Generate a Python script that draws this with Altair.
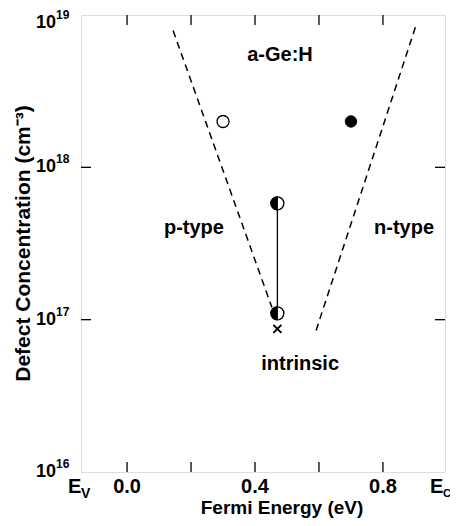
import altair as alt
import pandas as pd

# ---------------- data ----------------
dash_group = ["p", "p", "n", "n"]
dash_x = [0.144, 0.453, 0.591, 0.906]
dash_y = [7.9e18, 1.2e17, 8.5e16, 8.9e18]

range_x = [0.47, 0.47]
range_y = [1.1e17, 5.8e17]

open_x = [0.30]
open_y = [2.0e18]
filled_x = [0.70]
filled_y = [2.0e18]
half_x = [0.47, 0.47]
half_y = [5.8e17, 1.1e17]
cross_x = [0.47]
cross_y = [8.7e16]

label_text = ["a-Ge:H", "p-type", "n-type", "intrinsic"]
label_x = [0.478, 0.209, 0.866, 0.541]
label_y = [5.46e18, 4.0e17, 4.0e17, 5.1e16]

xtick_values = [0.0, 0.2, 0.4, 0.6, 0.8]
xlabel_values = [0.0, 0.4, 0.8]
xlabel_text = ["0.0", "0.4", "0.8"]
ytick_values = [1e16, 1e17, 1e18]
ytick_exp = ["16", "17", "18"]
ytop_value = [1e19]
ytop_exp = ["19"]
ytick_inner = [1e17, 1e18]

x_title = "Fermi Energy (eV)"
y_title = "Defect Concentration (cm⁻³)"

x_domain = [-0.144, 0.994]
y_domain = [1e16, 1e19]

FONT = "Liberation Sans"
W, H = 364, 457

xs = alt.Scale(domain=x_domain, nice=False, zero=False)
ys = alt.Scale(type="log", domain=y_domain, nice=False)

CIRCLE = "M -1 0 A 1 1 0 1 0 1 0 A 1 1 0 1 0 -1 0 Z"
LEFT_HALF = "M 0 -1 A 1 1 0 0 0 0 1 Z"
XMARK = "M -1 -1 L 1 1 M -1 1 L 1 -1"

df_dash = pd.DataFrame({"x": dash_x, "y": dash_y, "g": dash_group})
df_range = pd.DataFrame({"x": range_x, "y": range_y})
df_open = pd.DataFrame({"x": open_x, "y": open_y})
df_filled = pd.DataFrame({"x": filled_x, "y": filled_y})
df_half = pd.DataFrame({"x": half_x, "y": half_y})
df_cross = pd.DataFrame({"x": cross_x, "y": cross_y})
df_lab = pd.DataFrame({"x": label_x, "y": label_y, "t": label_text})
df_xt = pd.DataFrame({"x": xtick_values})
df_xl = pd.DataFrame({"x": xlabel_values, "t": xlabel_text})
df_yt = pd.DataFrame({"y": ytick_values, "e": ytick_exp})
df_ytop = pd.DataFrame({"y": ytop_value, "e": ytop_exp})
df_yi = pd.DataFrame({"y": ytick_inner})
df_one = pd.DataFrame({"k": [0]})


def X():
    return alt.X("x:Q", scale=xs, axis=None)


def Y():
    return alt.Y("y:Q", scale=ys, axis=None)


def txt(data, size, **kw):
    return alt.Chart(data).mark_text(font=FONT, fontSize=size, fontWeight="bold",
                                     color="black", **kw)


dashed = alt.Chart(df_dash).mark_line(color="black", strokeWidth=1.5, strokeDash=[7, 5]).encode(
    x=X(), y=Y(), detail="g:N")

vline = alt.Chart(df_range).mark_line(color="black", strokeWidth=1.3).encode(x=X(), y=Y())

open_c = alt.Chart(df_open).mark_point(shape=CIRCLE, size=144, filled=True, fill="white",
                                       stroke="black", strokeWidth=1.3, opacity=1).encode(x=X(), y=Y())
filled_c = alt.Chart(df_filled).mark_point(shape=CIRCLE, size=130, filled=True, fill="black",
                                           stroke="black", strokeWidth=1, opacity=1).encode(x=X(), y=Y())
half_bg = alt.Chart(df_half).mark_point(shape=CIRCLE, size=169, filled=True, fill="white",
                                        stroke="black", strokeWidth=1.3, opacity=1).encode(x=X(), y=Y())
half_fg = alt.Chart(df_half).mark_point(shape=LEFT_HALF, size=169, filled=True, fill="black",
                                        stroke="black", strokeWidth=1, opacity=1).encode(x=X(), y=Y())
cross = alt.Chart(df_cross).mark_point(shape=XMARK, size=64, filled=False, stroke="black",
                                       strokeWidth=2, opacity=1).encode(x=X(), y=Y())

labels = txt(df_lab, 20, align="center", baseline="middle").encode(x=X(), y=Y(), text="t:N")

tick_b = alt.Chart(df_xt).mark_rule(color="black", strokeWidth=1.3).encode(
    x=X(), y=alt.value(H), y2=alt.value(H - 10))
tick_t = alt.Chart(df_xt).mark_rule(color="black", strokeWidth=1.3).encode(
    x=X(), y=alt.value(0), y2=alt.value(10))
tick_l = alt.Chart(df_yi).mark_rule(color="black", strokeWidth=1.3).encode(
    y=Y(), x=alt.value(0), x2=alt.value(10))
tick_r = alt.Chart(df_yi).mark_rule(color="black", strokeWidth=1.3).encode(
    y=Y(), x=alt.value(W), x2=alt.value(W - 10))

xlab = txt(df_xl, 20, align="center", baseline="middle").encode(
    x=X(), y=alt.value(H + 15), text="t:N")

ylab_base = txt(df_yt, 18, align="right", baseline="middle").encode(
    y=Y(), x=alt.value(-25), text=alt.value("10"))
ylab_exp = txt(df_yt, 12, align="left", baseline="middle", dy=-8).encode(
    y=Y(), x=alt.value(-25), text="e:N")
ytop_base = txt(df_ytop, 18, align="right", baseline="middle", dy=8).encode(
    y=Y(), x=alt.value(-25), text=alt.value("10"))
ytop_exp = txt(df_ytop, 12, align="left", baseline="middle", dy=0).encode(
    y=Y(), x=alt.value(-25), text="e:N")

ev_e = txt(df_one, 20, align="left", baseline="middle").encode(
    x=alt.value(-13), y=alt.value(H + 15), text=alt.value("E"))
ev_s = txt(df_one, 14, align="left", baseline="middle").encode(
    x=alt.value(0), y=alt.value(H + 22), text=alt.value("V"))
ec_e = txt(df_one, 20, align="left", baseline="middle").encode(
    x=alt.value(W - 15), y=alt.value(H + 15), text=alt.value("E"))
ec_s = txt(df_one, 11, align="left", baseline="middle").encode(
    x=alt.value(W - 2), y=alt.value(H + 22), text=alt.value("C"))

xtitle = txt(df_one, 19, align="center", baseline="middle").encode(
    x=alt.value(201), y=alt.value(H + 36), text=alt.value(x_title))
ytitle = txt(df_one, 21, align="center", baseline="middle", angle=270).encode(
    x=alt.value(-57), y=alt.value(H / 2), text=alt.value(y_title))

chart = alt.layer(
    dashed, vline, open_c, filled_c, half_bg, half_fg, cross, labels,
    tick_b, tick_t, tick_l, tick_r, xlab, ylab_base, ylab_exp, ytop_base, ytop_exp,
    ev_e, ev_s, ec_e, ec_s, xtitle, ytitle,
).properties(
    width=W, height=H,
    autosize=alt.AutoSizeParams(type="none"),
    padding={"left": 73, "top": 7, "right": 5, "bottom": 46},
).configure_view(stroke="black", strokeWidth=1.6).configure(background="white")

chart.save("out.html", embed_options={"renderer": "svg", "actions": False})
